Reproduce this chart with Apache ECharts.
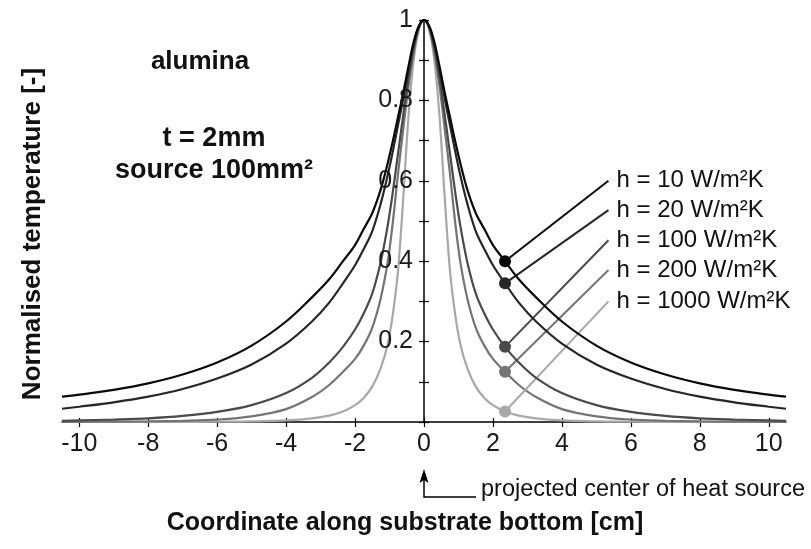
<!DOCTYPE html>
<html>
<head>
<meta charset="utf-8">
<script src="https://cdn.jsdelivr.net/npm/echarts@6/dist/echarts.min.js"></script>
<style>
  html, body { margin: 0; padding: 0; background: #fff; }
  #chart { width: 811px; height: 549px; }
</style>
</head>
<body>
<div id="chart"></div>
<script>
// Distance from the centre of the heat source (cm); the profiles are symmetric about x = 0
const distance = [0, 0.15, 0.3, 0.45, 0.6, 0.75, 0.9, 1.05, 1.25, 1.5, 1.75, 2.0, 2.35, 2.75, 3.25, 4, 5, 6, 7, 8, 9, 10, 10.5];

// Normalised temperature along the substrate bottom for each heat transfer coefficient
const tempH10   = [1.000, 0.985, 0.945, 0.885, 0.820, 0.760, 0.700, 0.645, 0.580, 0.520, 0.480, 0.440, 0.400, 0.355, 0.310, 0.250, 0.190, 0.148, 0.118, 0.096, 0.080, 0.068, 0.063];
const tempH20   = [1.000, 0.984, 0.940, 0.875, 0.805, 0.740, 0.675, 0.615, 0.545, 0.475, 0.430, 0.390, 0.345, 0.297, 0.250, 0.195, 0.143, 0.108, 0.082, 0.063, 0.049, 0.038, 0.033];
const tempH100  = [1.000, 0.982, 0.930, 0.855, 0.765, 0.670, 0.575, 0.490, 0.400, 0.320, 0.270, 0.230, 0.187, 0.148, 0.110, 0.072, 0.042, 0.025, 0.015, 0.009, 0.006, 0.004, 0.003];
const tempH200  = [1.000, 0.980, 0.920, 0.835, 0.730, 0.620, 0.500, 0.400, 0.310, 0.235, 0.190, 0.157, 0.125, 0.092, 0.062, 0.032, 0.014, 0.006, 0.003, 0.0015, 0.0008, 0.0004, 0.0003];
const tempH1000 = [1.000, 0.975, 0.900, 0.760, 0.560, 0.380, 0.270, 0.195, 0.135, 0.088, 0.060, 0.042, 0.026, 0.016, 0.009, 0.004, 0.0015, 0.0006, 0.0002, 0.0001, 0, 0, 0];

const seriesLabels = ['h = 10 W/m²K', 'h = 20 W/m²K', 'h = 100 W/m²K', 'h = 200 W/m²K', 'h = 1000 W/m²K'];
const xTickValues = [-10, -8, -6, -4, -2, 0, 2, 4, 6, 8, 10];
const yTickLabelValues = [0.2, 0.4, 0.6, 0.8, 1];
const markerDistance = 2.35;

// ---- styling / layout constants ----
const profiles = [tempH10, tempH20, tempH100, tempH200, tempH1000];
const lineColors = ['#0a0a0a', '#262626', '#4a4a4a', '#747474', '#a8a8a8'];
const leaderEndX = 5.35;
const leaderEndY = [0.600, 0.527, 0.452, 0.378, 0.300];
const FONT = '"Liberation Sans", Arial, Helvetica, sans-serif';
const GRID = { left: 62, right: 25, top: 20, bottom: 127 };

function fullProfile(values) {
  const pts = [];
  for (let i = distance.length - 1; i > 0; i--) pts.push([-distance[i], values[i]]);
  for (let i = 0; i < distance.length; i++) pts.push([distance[i], values[i]]);
  return pts;
}

const markerIdx = distance.indexOf(markerDistance);

const series = profiles.map((vals, k) => ({
  type: 'line',
  name: seriesLabels[k],
  data: fullProfile(vals),
  showSymbol: false,
  smooth: 0.35,
  lineStyle: { color: lineColors[k], width: 2.2 },
  itemStyle: { color: lineColors[k] },
  z: 2 + (profiles.length - k),
  animation: false,
  markLine: {
    silent: true,
    symbol: ['none', 'none'],
    label: { show: false },
    lineStyle: { color: lineColors[k], width: 2, type: 'solid' },
    animation: false,
    data: [[{ coord: [markerDistance, vals[markerIdx]] }, { coord: [leaderEndX, leaderEndY[k]] }]]
  },
  markPoint: {
    silent: true,
    animation: false,
    data: [
      { coord: [markerDistance, vals[markerIdx]], symbol: 'circle', symbolSize: 12,
        itemStyle: { color: lineColors[k] }, label: { show: false } },
      { coord: [leaderEndX, leaderEndY[k]], symbol: 'circle', symbolSize: 0,
        label: { show: true, position: 'right', distance: 8, formatter: seriesLabels[k],
                 color: '#111', fontSize: 24, fontFamily: FONT } }
    ]
  }
}));

const chart = echarts.init(document.getElementById('chart'), null, { renderer: 'canvas' });

const axisLineStyle = { color: '#000', width: 1.5 };

function yAxes(offset) {
  return [
    {
      type: 'value', min: 0, max: 1, interval: 0.1, position: 'left', offset: offset, z: 20,
      axisLine: { show: true, onZero: false, lineStyle: axisLineStyle },
      axisTick: { show: true, inside: false, length: 5, lineStyle: { color: '#000', width: 1.2 } },
      axisLabel: { show: true, customValues: yTickLabelValues, margin: 11, color: '#1a1a1a', fontSize: 25, fontFamily: FONT },
      splitLine: { show: false }
    },
    {
      type: 'value', min: 0, max: 1, interval: 0.1, position: 'left', offset: offset, z: 20,
      axisLine: { show: false, onZero: false },
      axisTick: { show: true, inside: true, length: 5, lineStyle: { color: '#000', width: 1.2 } },
      axisLabel: { show: false },
      splitLine: { show: false }
    }
  ];
}

chart.setOption({
  backgroundColor: '#fff',
  animation: false,
  grid: Object.assign({ containLabel: false }, GRID),
  xAxis: [
    {
      type: 'value', min: -10.5, max: 10.5, position: 'bottom',
      axisLine: { show: true, onZero: false, lineStyle: axisLineStyle },
      axisTick: { show: true, inside: false, length: 5, customValues: xTickValues, lineStyle: { color: '#000', width: 1.2 } },
      axisLabel: { show: true, customValues: xTickValues, margin: 10, color: '#1a1a1a', fontSize: 25, fontFamily: FONT },
      splitLine: { show: false }
    },
    {
      type: 'value', min: -10.5, max: 10.5, position: 'bottom',
      axisLine: { show: false, onZero: false },
      axisTick: { show: true, inside: true, length: 4, customValues: xTickValues, lineStyle: { color: '#000', width: 1.2 } },
      axisLabel: { show: false },
      splitLine: { show: false }
    }
  ],
  yAxis: yAxes(0),
  series: series
});

// The vertical axis runs through the source centre (x = 0)
const x0 = chart.convertToPixel({ xAxisIndex: 0 }, 0);
chart.setOption({ yAxis: yAxes(-(x0 - GRID.left)) });

// Annotations: heat-source pointer, axis titles and case description
const boldText = (text, x, y, size) => ({
  type: 'text', silent: true,
  style: { text: text, x: x, y: y, fill: '#111', font: 'bold ' + size + 'px ' + FONT, align: 'center', verticalAlign: 'middle' }
});

chart.setOption({
  graphic: [
    boldText('alumina', 200, 62, 26),
    boldText('t = 2mm', 214, 139, 27),
    boldText('source 100mm²', 214, 171, 27),
    boldText('Coordinate along substrate bottom [cm]', 405, 523, 25),
    {
      type: 'text', silent: true, rotation: Math.PI / 2, x: 33, y: 234,
      style: { text: 'Normalised temperature [-]', x: 0, y: 0, fill: '#111', font: 'bold 26px ' + FONT, align: 'center', verticalAlign: 'middle' }
    },
    {
      type: 'polyline', silent: true,
      shape: { points: [[x0 + 52, 497], [x0, 497], [x0, 480]] },
      style: { stroke: '#000', lineWidth: 1.5, fill: null }
    },
    {
      type: 'polygon', silent: true,
      shape: { points: [[x0, 469], [x0 - 4.5, 483], [x0, 480], [x0 + 4.5, 483]] },
      style: { fill: '#000' }
    },
    {
      type: 'text', silent: true,
      style: { text: 'projected center of heat source', x: x0 + 57, y: 490, fill: '#111', font: '23.5px ' + FONT, align: 'left', verticalAlign: 'middle' }
    }
  ]
});
</script>
</body>
</html>
